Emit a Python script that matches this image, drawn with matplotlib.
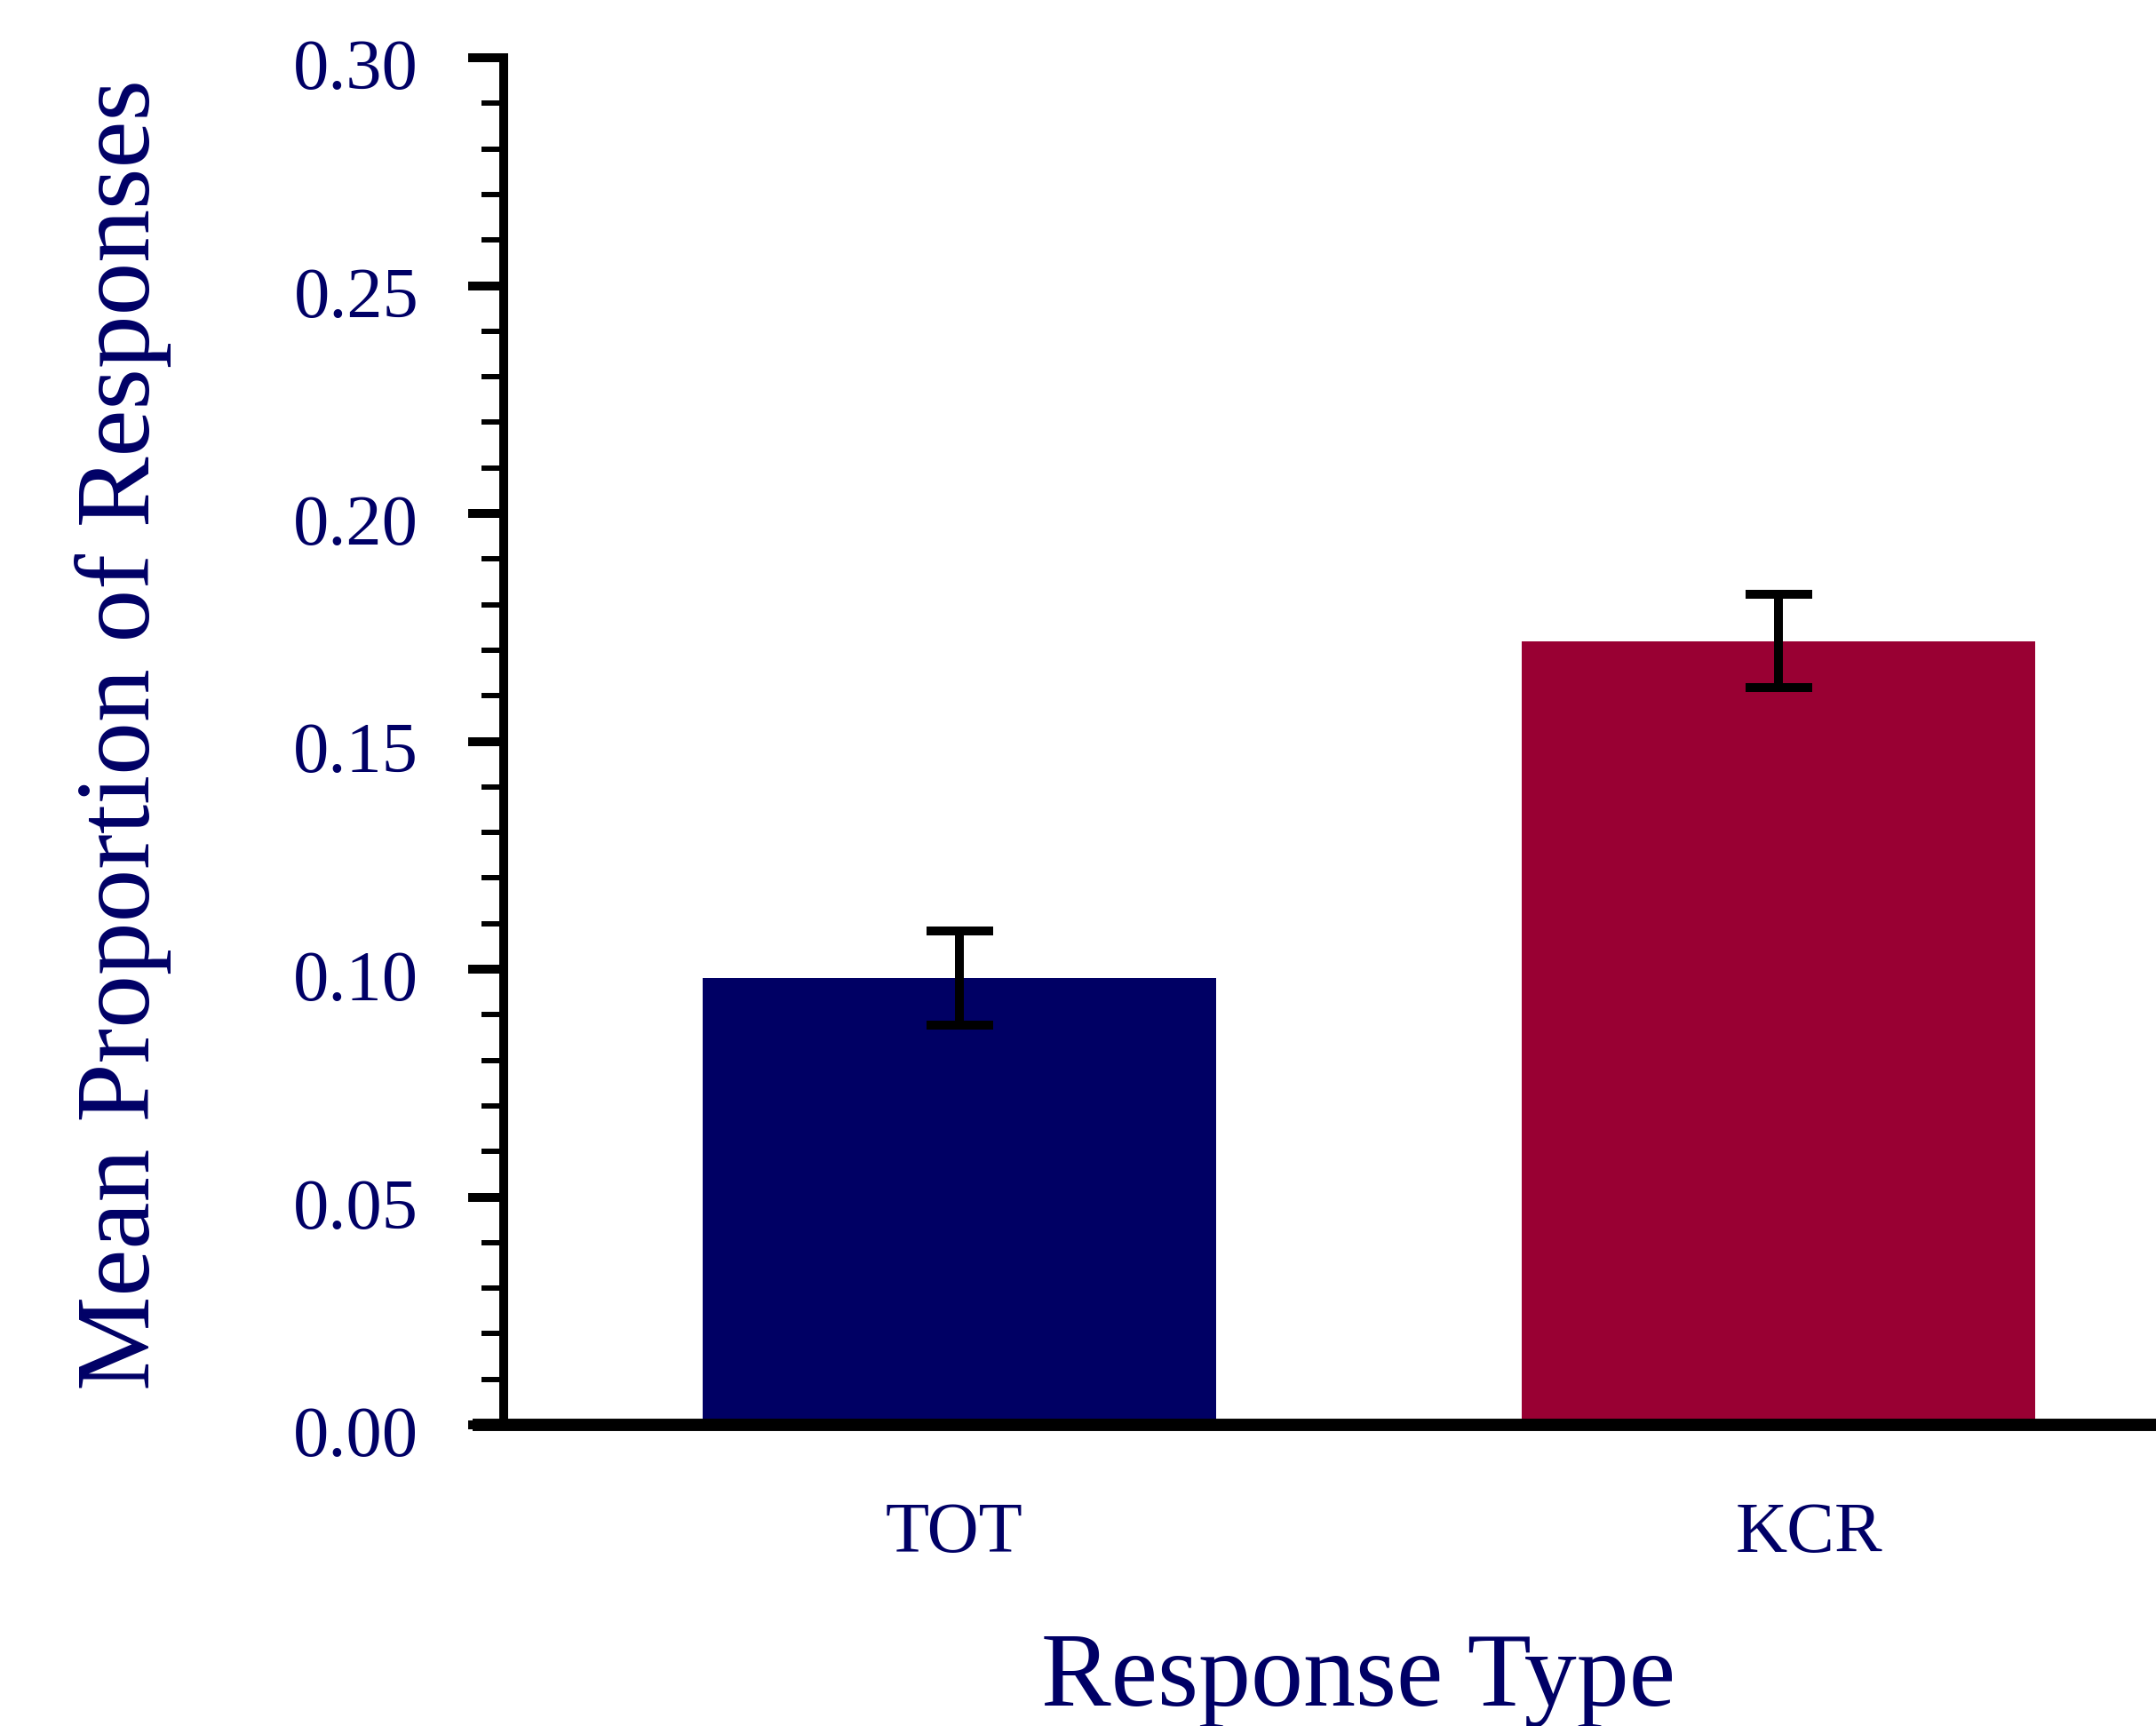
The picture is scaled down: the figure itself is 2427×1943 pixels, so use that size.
import matplotlib
matplotlib.use("Agg")
import matplotlib.pyplot as plt
import matplotlib.transforms as mtransforms
from matplotlib.ticker import MultipleLocator, FormatStrFormatter

categories = ["TOT", "KCR"]
means = [0.098, 0.172]
errors = [0.0103, 0.0103]
bar_colors = ["#000064", "#990033"]
yticks = [0.00, 0.05, 0.10, 0.15, 0.20, 0.25, 0.30]

text_color = "#000066"
plt.rcParams['font.family'] = ['Liberation Serif', 'DejaVu Serif']

W, H = 2427, 1943
fig = plt.figure(figsize=(W / 100, H / 100), dpi=100)
ax = fig.add_axes([567 / W, 1 - 1604 / H, (W - 567) / W, (1604 - 65) / H])

x = list(range(len(categories)))
ax.bar(x, means, width=0.626, color=bar_colors, zorder=2)
ax.errorbar(x, means, yerr=errors, fmt='none', ecolor='black',
            elinewidth=7.2, capsize=27, capthick=7.2, zorder=3)

ax.set_xlim(-0.5564, 1.461)
ax.set_ylim(0, 0.30)
ax.set_yticks(yticks)
ax.yaxis.set_major_formatter(FormatStrFormatter('%.2f'))
ax.yaxis.set_minor_locator(MultipleLocator(0.01))
ax.set_xticks(x)
ax.set_xticklabels(categories)

for s in ['top', 'right']:
    ax.spines[s].set_visible(False)
ax.spines['left'].set_linewidth(7.2)
ax.spines['bottom'].set_linewidth(10)
ax.spines['bottom'].set_bounds(-0.594, 1.461)
ax.spines['bottom'].set_capstyle('butt')

ax.tick_params(axis='y', which='major', length=29, width=7.2, pad=40,
               labelsize=58, labelcolor=text_color, color='black')
ax.tick_params(axis='y', which='minor', length=18, width=4.3, color='black')
ax.tick_params(axis='x', which='both', length=0, pad=63,
               labelsize=58, labelcolor=text_color)

# small label offsets to match the reference placement
down = mtransforms.ScaledTranslation(0, -7 / 100, fig.dpi_scale_trans)
for lbl in ax.get_yticklabels():
    lbl.set_transform(lbl.get_transform() + down)
xlabels = ax.get_xticklabels()
shift_x = [-6, 34]
for lbl, dx in zip(xlabels, shift_x):
    lbl.set_transform(lbl.get_transform() +
                      mtransforms.ScaledTranslation(dx / 100, 0, fig.dpi_scale_trans))

ax.set_ylabel("Mean Proportion of Responses", fontsize=86, color=text_color)
ax.yaxis.set_label_coords(-0.201, 0.505)
ax.set_xlabel("Response Type", fontsize=85, color=text_color)
ax.xaxis.set_label_coords(0.517, -0.152)

fig.savefig("out.png", dpi=100, facecolor='white')
